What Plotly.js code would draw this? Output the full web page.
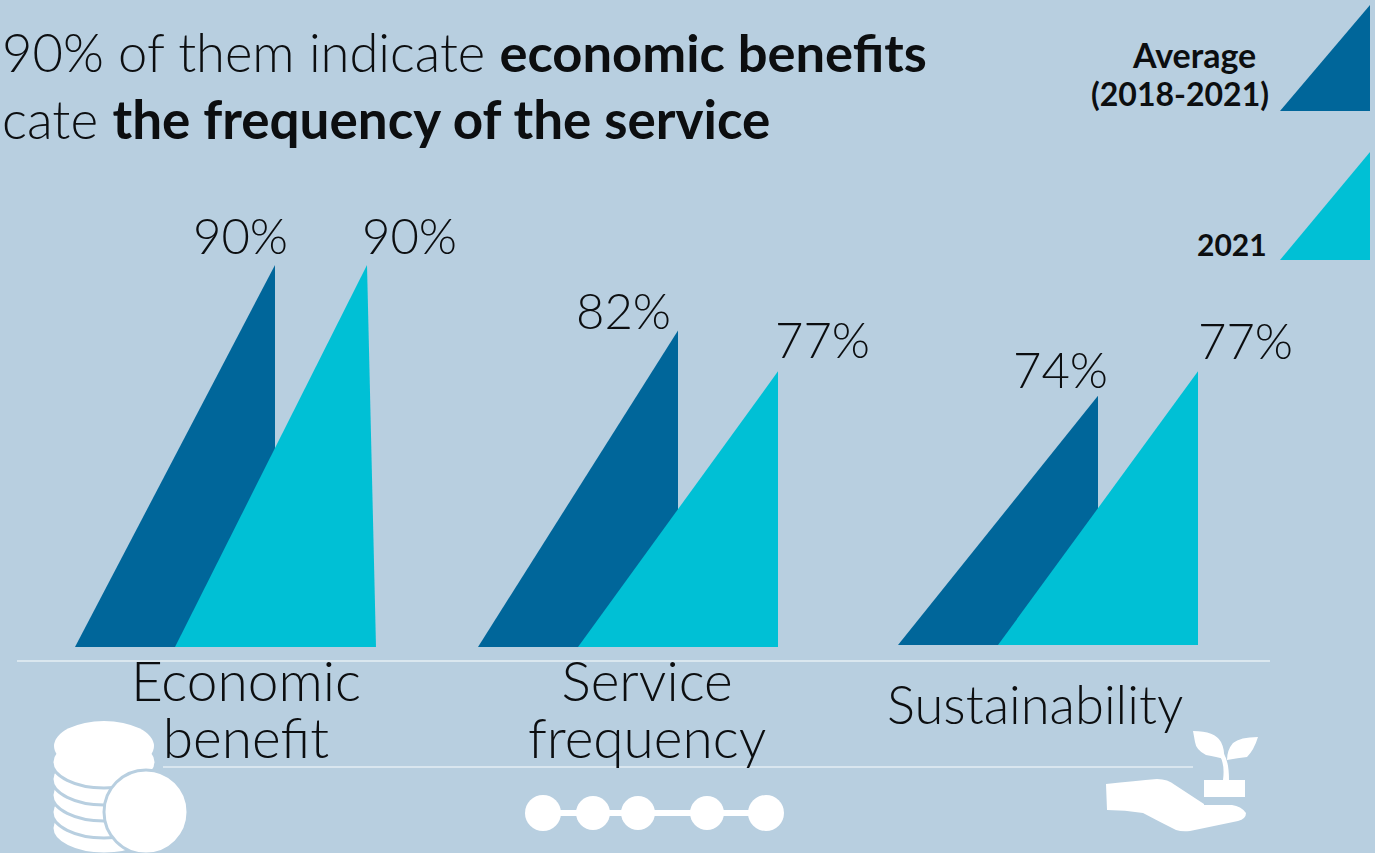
<!DOCTYPE html>
<html>
<head>
<meta charset="utf-8">
<script src="https://cdn.plot.ly/plotly-3.0.1.min.js"></script>
<style>html,body{margin:0;padding:0;background:#b8cfe0;overflow:hidden}#chart{width:1375px;height:853px}</style>
</head>
<body>
<div id="chart"></div>
<script>
// Survey results, share of respondents (%)
const categories = [["Economic", "benefit"], ["Service", "frequency"], ["Sustainability"]];
const averageValues = [90, 82, 74];
const latestValues = [90, 77, 77];
const seriesNames = [["Average", "(2018-2021)"], ["2021"]];

const W = 1375, H = 853;
const BG = "#b8cfe0", DARK = "#00669a", TEAL = "#00c0d5", INK = "#0c0e10", WHITE = "#ffffff";
const FONT = "Lato, 'Open Sans', sans-serif";

// Value axis: the triangles stand on a truncated baseline
const valuePerPx = 1 / 8.18, baseValue = 43.3, basePx = 647;
const yAt = px => baseValue + (basePx - px) * valuePerPx;

// Horizontal placement of each group, in page pixels
const groupLeft = [75, 478, 898];
const groupBasePx = [647, 647, 645];
const triangleWidth = 200, seriesOffset = 100;
const latestApexInset = [8, 0, 0];
const latestRightExtra = [1, 0, 0];

const triangle = (name, color, left, apexX, right, value, base) => ({
  type: "scatter", mode: "lines", name, showlegend: false, hoverinfo: "skip",
  x: [left, apexX, right, left], y: [base, value, base, base],
  fill: "toself", fillcolor: color, line: {width: 0, color}
});

const traces = [];
groupLeft.forEach((left, i) => {
  const base = yAt(groupBasePx[i]);
  traces.push(triangle("Average", DARK, left, left + triangleWidth, left + triangleWidth, averageValues[i], base));
  const l = left + seriesOffset;
  traces.push(triangle("2021", TEAL, l, l + triangleWidth - latestApexInset[i], l + triangleWidth + latestRightExtra[i], latestValues[i], base));
});

// Text helper, placed by page pixel
const label = (text, x, y, size, opts = {}) => Object.assign({
  text, xref: "paper", yref: "paper", x: x / W, y: 1 - y / H,
  xanchor: "center", yanchor: "middle", align: "center", showarrow: false,
  font: {family: FONT, size, color: INK, weight: opts.weight || 300}
}, opts);

// Two-line labels: the base size sets the tight line pitch, the span sets the glyph size
const stacked = (lines, glyphSize) => lines.map(s => `<span style="font-size:${glyphSize}px">${s}</span>`).join("<br>");

const annotations = [
  label("90% of them indicate <b>economic benefits</b>", 0, 52, 52.5, {xanchor: "left", align: "left"}),
  label("cate <b>the frequency of the service</b>", 0, 118, 53, {xanchor: "left", align: "left"}),
  label(averageValues[0] + "%", 240, 235, 49),
  label(latestValues[0] + "%", 410, 235, 49),
  label(averageValues[1] + "%", 623, 310, 49),
  label(latestValues[1] + "%", 822, 339, 49),
  label(averageValues[2] + "%", 1060, 369, 49),
  label(latestValues[2] + "%", 1245, 340, 49),
  label(stacked(categories[0], 55), 246, 708, 44),
  label(stacked(categories[1], 55), 647, 708, 44),
  label(categories[2][0], 1035, 703, 52.5),
  label(seriesNames[0][0], 1194, 54, 34, {weight: 700}),
  label(seriesNames[0][1], 1180, 93, 32, {weight: 700}),
  label(seriesNames[1][0], 1232, 244, 30, {weight: 700})
];

// Decorations use a second, pixel-scaled vertical axis
const px = {xref: "x", yref: "y2"};
const path = (d, fill) => Object.assign({type: "path", path: d, fillcolor: fill, line: {width: 0}, layer: "above"}, px);
const rule = (x0, x1, y, color, width) => Object.assign({type: "line", x0, x1, y0: y, y1: y, line: {color, width}, layer: "above"}, px);
const disc = (cx, cy, rx, ry, stroke, sw) => Object.assign({
  type: "circle", x0: cx - rx, x1: cx + rx, y0: cy - ry, y1: cy + ry,
  fillcolor: WHITE, line: {color: stroke, width: sw}, layer: "above"
}, px);

const shapes = [
  path("M1280,111 L1370,5 L1370,111 Z", DARK),
  path("M1280,260 L1370,152 L1370,260 Z", TEAL),
  rule(17, 1270, 661, "#e6eff5", 1.5),
  rule(163, 1193, 767, "#d9e6ef", 2)
];

// Coin stack, drawn bottom to top, then the single coin in front
[828, 812, 795, 779, 762].forEach(cy => shapes.push(disc(104, cy, 52, 26, BG, 3)));
shapes.push(disc(104, 746, 50, 25, BG, 0));
shapes.push(disc(146, 812, 42, 42, BG, 3));

// Chain of service stops
shapes.push(rule(543, 766, 813, WHITE, 6));
[[543, 18], [593, 17], [638, 17], [707, 17], [766, 18]].forEach(([cx, r]) => shapes.push(disc(cx, 813, r, r, BG, 0)));

// Open hand holding a seedling
shapes.push(path("M1106,784 Q1135,781 1157,779 Q1168,779 1175,785 L1204,804 L1204,805 L1232,805 Q1241,806 1246,813 Q1246,819 1238,821 L1190,831 Q1182,832 1176,830 Q1160,822 1143,813 Q1125,810 1107,810 Z", WHITE));
shapes.push(path("M1204,780 L1245,780 L1245,797 L1204,797 Z", WHITE));
shapes.push(path("M1223,780 Q1225,765 1220,756 L1224,754 Q1229,762 1229,780 Z", WHITE));
shapes.push(path("M1193,731 Q1215,731 1221,742 Q1225,750 1224,759 Q1217,757 1206,755 Q1196,750 1195,742 Z", WHITE));
shapes.push(path("M1258,737 Q1240,737 1233,743 Q1227,750 1227,760 Q1238,758 1247,757 Q1254,750 1258,737 Z", WHITE));

const layout = {
  width: W, height: H, showlegend: false,
  paper_bgcolor: BG, plot_bgcolor: BG,
  margin: {l: 0, r: 0, t: 0, b: 0},
  xaxis: {range: [0, W], visible: false, fixedrange: true},
  yaxis: {range: [yAt(H), yAt(0)], visible: false, fixedrange: true},
  yaxis2: {range: [H, 0], visible: false, overlaying: "y", fixedrange: true},
  annotations, shapes
};

Plotly.newPlot("chart", traces, layout, {displayModeBar: false, staticPlot: true});
</script>
</body>
</html>
